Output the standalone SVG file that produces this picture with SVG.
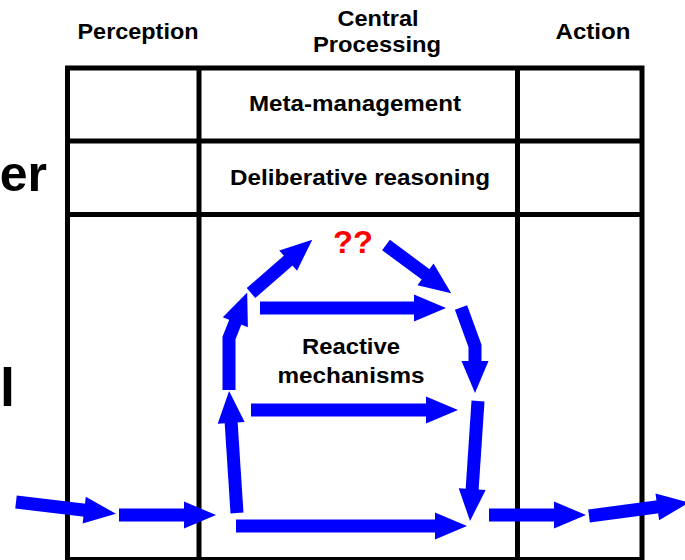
<svg xmlns="http://www.w3.org/2000/svg" width="685" height="560" viewBox="0 0 685 560">
  <style>
    .grid { stroke: #000; stroke-width: 5; fill: none; }
    .hdr { font-family: "Liberation Sans", Arial, sans-serif; font-weight: bold; font-size: 22px; fill: #000; text-anchor: middle; }
    .lbl { font-family: "Liberation Sans", Arial, sans-serif; font-weight: bold; font-size: 22px; fill: #000; text-anchor: middle; }
    .big { font-family: "Liberation Sans", Arial, sans-serif; font-weight: bold; fill: #000; }
    .arr { stroke: #0000FF; stroke-width: 13; fill: none; stroke-linejoin: miter; stroke-linecap: butt; marker-end: url(#ah); }
  </style>
  <defs>
    <marker id="ah" markerUnits="userSpaceOnUse" markerWidth="36" markerHeight="30" refX="1" refY="13.5" orient="auto" overflow="visible">
      <path d="M0,0 L32,13.5 L0,27 z" fill="#0000FF"/>
    </marker>
  </defs>
  <rect width="685" height="560" fill="#fff"/>

  <g id="headers">
    <text class="hdr" x="138" y="39" textLength="121" lengthAdjust="spacingAndGlyphs">Perception</text>
    <text class="hdr" x="378" y="26" textLength="81" lengthAdjust="spacingAndGlyphs">Central</text>
    <text class="hdr" x="377" y="52" textLength="128" lengthAdjust="spacingAndGlyphs">Processing</text>
    <text class="hdr" x="593" y="39" textLength="75" lengthAdjust="spacingAndGlyphs">Action</text>
  </g>

  <g id="side-labels">
    <text class="big" x="47" y="191" font-size="50" text-anchor="end">er</text>
    <text class="big" x="0" y="406" font-size="54">l</text>
  </g>

  <g id="table">
    <rect class="grid" x="67.5" y="68" width="574.5" height="491.5"/>
    <line class="grid" x1="199" y1="68" x2="199" y2="560"/>
    <line class="grid" x1="517.5" y1="68" x2="517.5" y2="560"/>
    <line class="grid" x1="67.5" y1="141" x2="642" y2="141"/>
    <line class="grid" x1="67.5" y1="214.5" x2="640" y2="214.5"/>
  </g>

  <g id="meta-management">
    <text class="lbl" x="355" y="111" textLength="212" lengthAdjust="spacingAndGlyphs">Meta-management</text>
  </g>
  <g id="deliberative-reasoning">
    <text class="lbl" x="360" y="185" textLength="260" lengthAdjust="spacingAndGlyphs">Deliberative reasoning</text>
  </g>
  <g id="reactive-mechanisms">
    <text class="lbl" x="351" y="354" textLength="98" lengthAdjust="spacingAndGlyphs">Reactive</text>
    <text class="lbl" x="351" y="383" textLength="147" lengthAdjust="spacingAndGlyphs">mechanisms</text>
  </g>
  <g id="unknown">
    <text x="353" y="253" font-family="Liberation Sans, Arial, sans-serif" font-weight="bold" font-size="31" fill="#FF0000" text-anchor="middle" textLength="40" lengthAdjust="spacingAndGlyphs">??</text>
  </g>

  <g id="connectors">
    <path class="arr" d="M16,502 L85.2,510.2"/>
    <path class="arr" d="M119,515 L185,515"/>
    <path class="arr" d="M237,513 L231.1,421.9"/>
    <path class="arr" d="M229,390 L229,338 L235.7,321.2"/>
    <path class="arr" d="M251,293 L288.9,260"/>
    <path class="arr" d="M386,245 L426.3,274.9"/>
    <path class="arr" d="M461,307.6 L475,346 L475,362"/>
    <path class="arr" d="M478,401 L472.1,490.1"/>
    <path class="arr" d="M260,308 L415,308"/>
    <path class="arr" d="M251,410 L427,410"/>
    <path class="arr" d="M236,526 L436,526"/>
    <path class="arr" d="M489,515 L555,515"/>
    <path class="arr" d="M589,516 L658.3,506.7"/>
  </g>
</svg>
